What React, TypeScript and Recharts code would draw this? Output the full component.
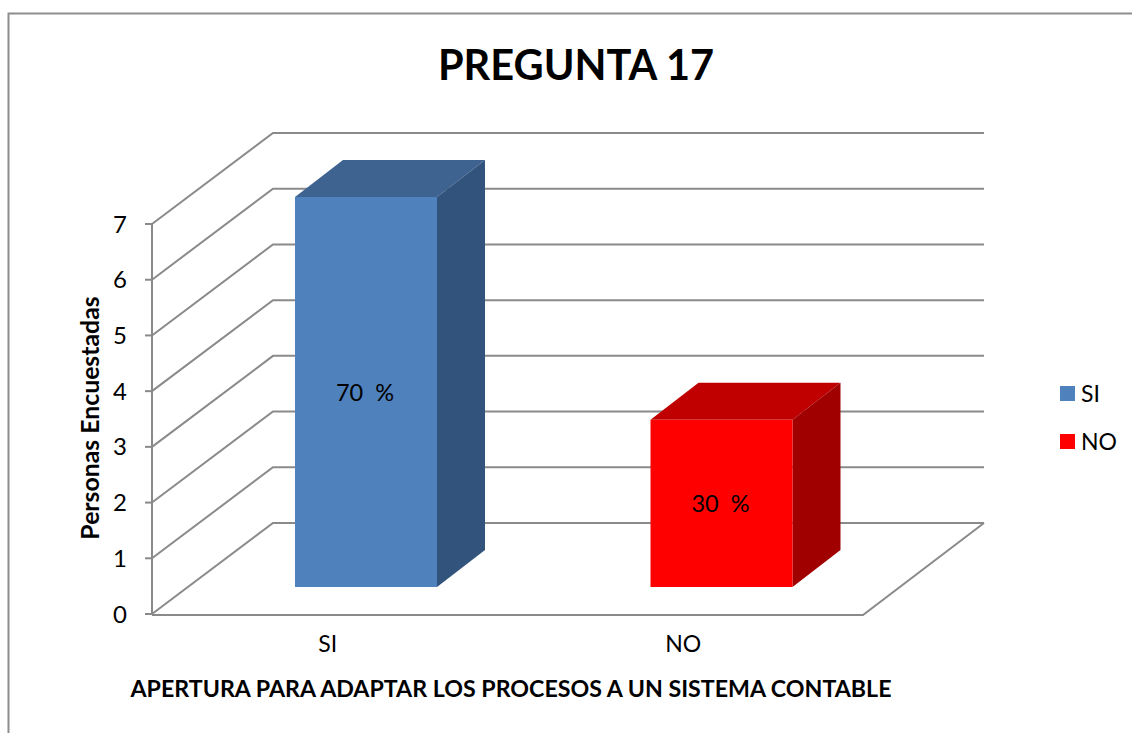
import React from "react";
import { BarChart, Bar, XAxis, YAxis, CartesianGrid, Legend } from "recharts";

const categories = ["SI", "NO"];
const siValues = [7, null];
const noValues = [null, 3];
const barLabels = ["70  %", "30  %"];
const yTicks = [0, 1, 2, 3, 4, 5, 6, 7];
const seriesColors = { SI: "#4F81BD", NO: "#FF0000" };
const chartTitle = "PREGUNTA 17";
const xTitle = "APERTURA PARA ADAPTAR LOS PROCESOS A UN SISTEMA CONTABLE";
const yTitle = "Personas Encuestadas";

const data = categories.map((name, i) => ({
  name,
  SI: siValues[i],
  NO: noValues[i],
  label: barLabels[i],
}));

const FONT = "Lato, Carlito, sans-serif";
const GRID = "#8A8A8A";
const WALL_DX = 121;
const WALL_DY = 91;
const BAR_DX = 36;
const BAR_DY = 27;
const DEPTH_X = 48;
const DEPTH_Y = 37;

function gridLine(props: any) {
  const { x1, x2, y1, index, key } = props;
  const isFloor = Math.abs(y1 - 614) < 1;
  return (
    <g key={key ?? index}>
      <path d={`M${x1},${y1}L${x1 + WALL_DX},${y1 - WALL_DY}L${x2 + WALL_DX},${y1 - WALL_DY}`} fill="none" stroke={GRID} strokeWidth={2} />
      {isFloor && (
        <path d={`M${x1},${y1 + 1}L${x2},${y1 + 1}L${x2 + WALL_DX},${y1 - WALL_DY}`} fill="none" stroke={GRID} strokeWidth={2} />
      )}
    </g>
  );
}

function Box3D(props: any) {
  const { x, y, width, height, payload, front, top, side } = props;
  if (!height || height <= 0) return null;
  const l = x + BAR_DX;
  const r = l + width;
  const t = y - BAR_DY;
  const b = t + height;
  return (
    <g>
      <path d={`M${l},${t}L${l + DEPTH_X},${t - DEPTH_Y}L${r + DEPTH_X},${t - DEPTH_Y}L${r},${t}Z`} fill={top} />
      <path d={`M${r},${t}L${r + DEPTH_X},${t - DEPTH_Y}L${r + DEPTH_X},${b - DEPTH_Y}L${r},${b}Z`} fill={side} />
      <rect x={l} y={t} width={width} height={height} fill={front} />
      <text x={l + width / 2 - 1} y={t + height / 2 + 9} textAnchor="middle" fontFamily={FONT} fontSize={23.5} fill="#000" style={{ whiteSpace: "pre" }}>
        {payload.label}
      </text>
    </g>
  );
}

function LegendContent({ payload }: any) {
  return (
    <div style={{ fontFamily: FONT, fontSize: 23, color: "#000" }}>
      {(payload || []).map((p: any) => (
        <div key={p.value} style={{ display: "flex", alignItems: "center", height: 48 }}>
          <span style={{ width: 15, height: 15, background: p.color, display: "inline-block", marginRight: 6 }} />
          <span>{p.value}</span>
        </div>
      ))}
    </div>
  );
}

export default function App() {
  return (
    <div style={{ position: "absolute", left: 0, top: 0 }}>
      <BarChart
        width={1132}
        height={733}
        data={data}
        margin={{ top: 224, right: 269, bottom: 59, left: 0 }}
        barCategoryGap={0}
      >
        <path d="M8.5,733L8.5,13.5L1132,13.5" fill="none" stroke="#8E8E8E" strokeWidth={2} />
        <text x={576} y={80} textAnchor="middle" fontFamily={FONT} fontWeight={700} fontSize={41.5} fill="#000">
          {chartTitle}
        </text>
        <text x={0} y={0} transform="translate(99,418) rotate(-90)" textAnchor="middle" fontFamily={FONT} fontWeight={700} fontSize={24.8} fill="#000">
          {yTitle}
        </text>
        <text x={511} y={697} textAnchor="middle" fontFamily={FONT} fontWeight={700} fontSize={23.2} fill="#000">
          {xTitle}
        </text>
        <CartesianGrid horizontal={gridLine} vertical={false} />
        <XAxis
          dataKey="name"
          height={60}
          axisLine={false}
          tickLine={false}
          tick={{ fontFamily: FONT, fontSize: 23, fill: "#000", dx: -2 }}
          tickMargin={16}
        />
        <YAxis
          width={152}
          domain={[0, 7]}
          ticks={yTicks}
          interval={0}
          axisLine={{ stroke: GRID, strokeWidth: 2 }}
          tickLine={{ stroke: GRID, strokeWidth: 2 }}
          tickSize={7}
          tickMargin={18}
          tick={{ fontFamily: FONT, fontSize: 24, fill: "#000" }}
        />
        <Legend
          layout="vertical"
          align="center"
          verticalAlign="middle"
          itemSorter={null}
          content={<LegendContent />}
          wrapperStyle={{ left: 1060, top: 369, width: 72, right: "auto", bottom: "auto" }}
        />
        <Bar
          dataKey="SI"
          stackId="a"
          barSize={142}
          fill={seriesColors.SI}
          isAnimationActive={false}
          shape={(p: any) => <Box3D {...p} front={seriesColors.SI} top="#3E6391" side="#31537C" />}
        />
        <Bar
          dataKey="NO"
          stackId="a"
          barSize={142}
          fill={seriesColors.NO}
          isAnimationActive={false}
          shape={(p: any) => <Box3D {...p} front={seriesColors.NO} top="#C00000" side="#A00000" />}
        />
      </BarChart>
    </div>
  );
}
